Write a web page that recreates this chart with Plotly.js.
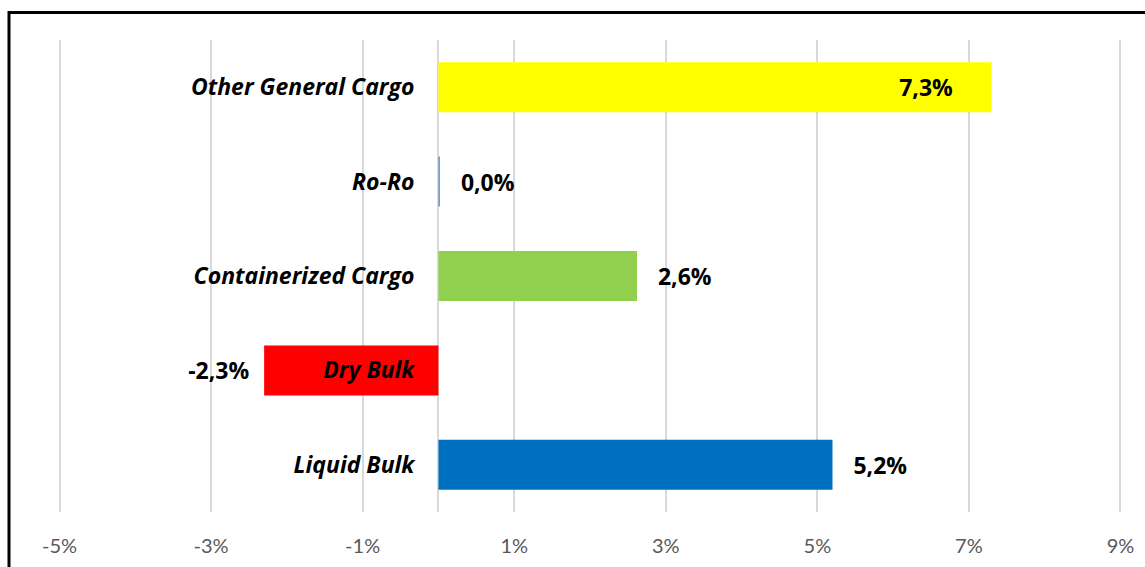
<!DOCTYPE html>
<html>
<head>
<meta charset="utf-8">
<script src="https://cdn.plot.ly/plotly-3.0.1.min.js"></script>
<style>html,body{margin:0;padding:0;background:#fff;}#chart{width:1145px;height:567px;}</style>
</head>
<body>
<div id="chart"></div>
<script>
const categories = ['Liquid Bulk', 'Dry Bulk', 'Containerized Cargo', 'Ro-Ro', 'Other General Cargo'];
const values = [5.2, -2.3, 2.62, 0.02, 7.3];
const barColors = ['#0070C0', '#FF0000', '#92D050', '#5B9BD5', '#FFFF00'];
const labelPositions = ['outside', 'outside', 'outside', 'outside', 'inside'];
const xTickValues = [-5, -3, -1, 1, 3, 5, 7, 9];
const xTickLabels = ['-5%', '-3%', '-1%', '1%', '3%', '5%', '7%', '9%'];

const NB = '\u00a0';
const pad = n => NB.repeat(n);
const labelTemplates = values.map((v, i) => {
  if (labelPositions[i] === 'inside') return '%{x:.1f}%' + pad(6);
  return v < 0 ? '%{x:.1f}%' + pad(2) : pad(3) + '%{x:.1f}%';
});

const labelFont = {family: '"Open Sans", Lato, sans-serif', size: 23, color: '#000', weight: 'bold'};

const trace = {
  type: 'bar',
  orientation: 'h',
  x: values,
  y: categories,
  marker: {color: barColors, line: {width: 0}},
  texttemplate: labelTemplates,
  textposition: labelPositions,
  insidetextanchor: 'end',
  textfont: labelFont,
  insidetextfont: labelFont,
  outsidetextfont: labelFont,
  constraintext: 'none',
  cliponaxis: false,
  hoverinfo: 'none'
};

const xmin = -5.02, xmax = 9.02;
const layout = {
  width: 1145,
  height: 567,
  margin: {l: 58, r: 23, t: 40, b: 55},
  paper_bgcolor: '#fff',
  plot_bgcolor: '#fff',
  separators: ',.',
  showlegend: false,
  bargap: 0.47,
  xaxis: {
    range: [xmin, xmax],
    tickvals: xTickValues,
    ticktext: xTickLabels,
    showgrid: true,
    gridcolor: '#D9D9D9',
    gridwidth: 2,
    zeroline: true,
    zerolinecolor: '#D9D9D9',
    zerolinewidth: 2,
    showline: false,
    ticks: '',
    tickfont: {family: 'Lato, "Open Sans", sans-serif', size: 20, color: '#595959'},
    ticklabelstandoff: 20,
    fixedrange: true
  },
  yaxis: {
    type: 'category',
    anchor: 'free',
    position: (0 - xmin) / (xmax - xmin),
    showgrid: false,
    zeroline: false,
    showline: false,
    ticks: '',
    ticklabelstandoff: 24,
    tickfont: {family: '"Open Sans", Lato, sans-serif', size: 23, color: '#000', weight: 'bold', style: 'italic'},
    fixedrange: true
  },
  shapes: [{
    type: 'rect', xref: 'paper', yref: 'paper',
    x0: (9 - 58) / 1064, x1: 1.2,
    y0: -0.3, y1: 1 + 27.5 / 472,
    line: {color: '#000', width: 3},
    fillcolor: 'rgba(0,0,0,0)',
    layer: 'above'
  }]
};

Plotly.newPlot('chart', [trace], layout, {displayModeBar: false, staticPlot: true});
</script>
</body>
</html>
